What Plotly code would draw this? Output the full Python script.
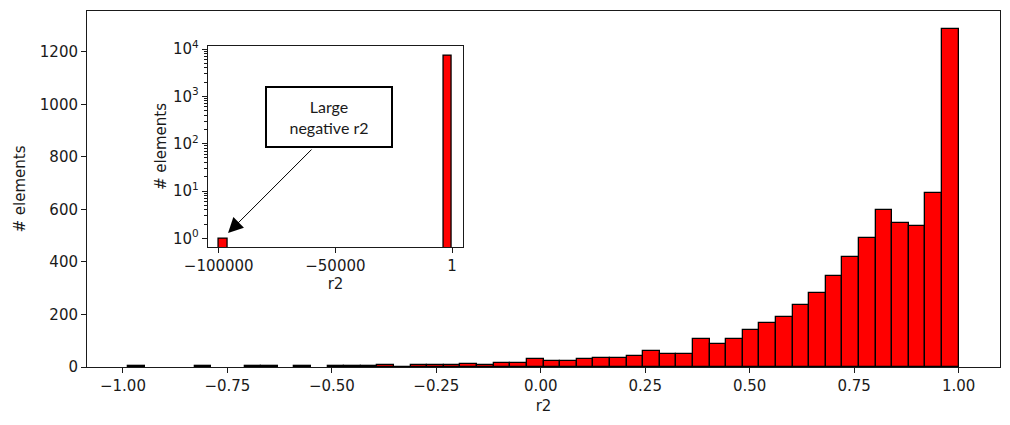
import plotly.graph_objects as go

# main histogram: 50 bins between the smallest value and 1
r2_min = -0.987
r2_max = 1.0
r2_counts = [
    3, 0, 0, 0, 3, 0, 0, 2, 3, 0,
    2, 0, 2, 2, 3, 8, 1, 6, 7, 7,
    13, 9, 16, 16, 29, 23, 23, 29, 34, 34,
    41, 62, 48, 48, 106, 89, 106, 140, 169, 190,
    236, 281, 347, 420, 493, 599, 550, 537, 663, 1289,
]

# inset: full range including the large negative outlier
full_min = -100000
full_max = 1
full_counts = [1, 0, 0, 0, 0, 0, 0, 0, 0, 0, 0, 0, 0, 0,
               0, 0, 0, 0, 0, 0, 0, 0, 0, 0, 0, 0, 7100]

main_ticks = [-1.0, -0.75, -0.5, -0.25, 0.0, 0.25, 0.5, 0.75, 1.0]
main_ticktext = ["\u22121.00", "\u22120.75", "\u22120.50", "\u22120.25",
                 "0.00", "0.25", "0.50", "0.75", "1.00"]
inset_xticks = [-100000, -50000, 1]
inset_xticktext = ["\u2212100000", "\u221250000", "1"]
inset_yticks = [1, 10, 100, 1000, 10000]
inset_yticktext = ["10<sup>0</sup>", "10<sup>1</sup>", "10<sup>2</sup>",
                   "10<sup>3</sup>", "10<sup>4</sup>"]

FONT = "DejaVu Sans"
INK = "#1a1a1a"


def centers(lo, hi, n):
    w = (hi - lo) / n
    return [lo + (i + 0.5) * w for i in range(n)], w


xc, w = centers(r2_min, r2_max, len(r2_counts))
xc2, w2 = centers(full_min, full_max, len(full_counts))

# empty bins draw nothing
y_main = [c if c > 0 else None for c in r2_counts]
y_full = [c if c > 0 else None for c in full_counts]

fig = go.Figure()
fig.add_trace(go.Bar(
    x=xc, y=y_main, width=w,
    marker=dict(color="#ff0000", line=dict(color="black", width=1.3)),
    xaxis="x", yaxis="y", showlegend=False,
))
fig.add_trace(go.Bar(
    x=xc2, y=y_full, width=w2,
    marker=dict(color="#ff0000", line=dict(color="black", width=1.3)),
    xaxis="x2", yaxis="y2", showlegend=False,
))

axis_common = dict(
    showline=True, mirror=True, linecolor=INK, linewidth=1,
    ticks="outside", ticklen=5, tickcolor=INK, tickwidth=1,
    showgrid=False, zeroline=False, automargin=False,
    tickfont=dict(family=FONT, size=15, color=INK),
)

minor_vals = [m * 10 ** k for k in range(0, 5) for m in range(2, 10)]

# page body adds 8px on the left/top, so the figure is sized to fit after it
fig.update_layout(
    width=1002, height=417,
    margin=dict(l=79, r=10, t=3, b=58),
    paper_bgcolor="white", plot_bgcolor="white",
    bargap=0,
    xaxis=dict(
        axis_common, domain=[0, 1], range=[-1.086, 1.099],
        tickmode="array", tickvals=main_ticks, ticktext=main_ticktext,
        title=dict(text="r2", font=dict(family=FONT, size=15, color=INK), standoff=6),
    ),
    yaxis=dict(
        axis_common, domain=[0, 1], range=[0, 1356],
        tickmode="array", tickvals=[0, 200, 400, 600, 800, 1000, 1200],
        title=dict(text="# elements", font=dict(family=FONT, size=15, color=INK), standoff=10),
    ),
    xaxis2=dict(
        axis_common, domain=[0.1322, 0.4122], anchor="y2",
        range=[-104730, 4860],
        tickmode="array", tickvals=inset_xticks, ticktext=inset_xticktext,
        title=dict(text="r2", font=dict(family=FONT, size=15, color=INK), standoff=4),
    ),
    yaxis2=dict(
        axis_common, domain=[0.3362, 0.9025], anchor="x2", type="log",
        range=[-0.19, 4.07],
        tickmode="array", tickvals=inset_yticks, ticktext=inset_yticktext,
        minor=dict(ticks="outside", ticklen=2.5, tickcolor=INK,
                   tickmode="array", tickvals=minor_vals),
        title=dict(text="# elements", font=dict(family=FONT, size=15, color=INK), standoff=2),
    ),
)

# arrow pointing at the outlier bar
fig.add_annotation(
    x=-96000, y=0.112, xref="x2", yref="y2",
    ax=85, ay=-85, axref="pixel", ayref="pixel",
    text="", showarrow=True,
    arrowhead=2, arrowsize=3, arrowwidth=1, arrowcolor="black",
)
fig.add_annotation(
    x=-52580, y=2.564, xref="x2", yref="y2",
    text="Large<br>negative r2", showarrow=False,
    font=dict(family="Lato", size=16, color=INK),
    bgcolor="white", bordercolor="black", borderwidth=2, borderpad=0,
    width=124, height=58,
)

fig.write_html("out.html")
